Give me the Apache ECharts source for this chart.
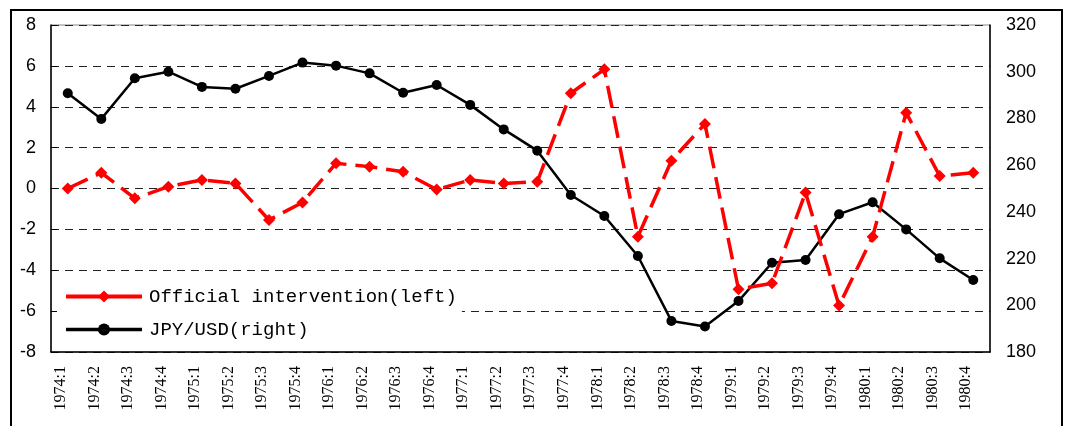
<!DOCTYPE html>
<html>
<head>
<meta charset="utf-8">
<script src="https://cdn.jsdelivr.net/npm/echarts@6/dist/echarts.min.js"></script>
<style>
  html, body { margin: 0; padding: 0; background: #fff; }
  #main { width: 1068px; height: 426px; }
</style>
</head>
<body>
<div id="main"></div>
<script>
const quarters = ['1974:1','1974:2','1974:3','1974:4','1975:1','1975:2','1975:3','1975:4',
  '1976:1','1976:2','1976:3','1976:4','1977:1','1977:2','1977:3','1977:4',
  '1978:1','1978:2','1978:3','1978:4','1979:1','1979:2','1979:3','1979:4',
  '1980:1','1980:2','1980:3','1980:4'];

// official intervention, left axis
const intervention = [0, 0.77, -0.48, 0.09, 0.42, 0.25, -1.54, -0.68,
  1.23, 1.07, 0.82, -0.05, 0.42, 0.25, 0.33, 4.66,
  5.83, -2.36, 1.36, 3.16, -4.93, -4.64, -0.2, -5.73,
  -2.36, 3.71, 0.61, 0.77];

// JPY/USD, right axis
const jpyUsd = [290.8, 279.8, 297.2, 300, 293.5, 292.7, 298.2, 303.9,
  302.6, 299.3, 291, 294.3, 285.8, 275.3, 266.2, 247.2,
  238.2, 221.1, 193.3, 190.9, 201.8, 218.2, 219.4, 239,
  244.1, 232.5, 220.1, 210.8];

const leftName = 'Official intervention(left)';
const rightName = 'JPY/USD(right)';

const myChart = echarts.init(document.getElementById('main'));

const option = {
  backgroundColor: '#fff',
  animation: false,
  graphic: [{
    type: 'rect',
    shape: { x: 11, y: 10, width: 1051, height: 440 },
    style: { fill: 'none', stroke: '#000', lineWidth: 2 }
  }],
  grid: {
    left: 51, right: 78, top: 25, bottom: 74,
    containLabel: false,
    show: true, borderColor: '#888', borderWidth: 1
  },
  legend: {
    orient: 'vertical',
    left: 57, top: 279,
    padding: [7, 5, 7, 7],
    backgroundColor: '#fff',
    itemWidth: 76, itemHeight: 15, itemGap: 12,
    textStyle: { fontFamily: 'Liberation Mono', fontSize: 19, color: '#000', lineHeight: 21, padding: [0, 0, 0, 2] },
    data: [
      { name: leftName, lineStyle: { type: 'solid', width: 4 } },
      { name: rightName, lineStyle: { width: 3.5 } }
    ]
  },
  xAxis: {
    type: 'category',
    data: quarters,
    boundaryGap: true,
    axisLine: { onZero: false, lineStyle: { color: '#000', width: 1.5 } },
    axisTick: { inside: true, length: 5, lineStyle: { color: '#000' } },
    axisLabel: {
      interval: 0, rotate: 90, margin: 14,
      fontFamily: 'Liberation Serif', fontSize: 16, color: '#000',
      verticalAlign: 'bottom', lineHeight: 14
    }
  },
  yAxis: [{
    type: 'value',
    min: -8, max: 8, interval: 2,
    axisLine: { show: true, lineStyle: { color: '#000', width: 1.5 } },
    axisTick: { show: true, inside: true, length: 6, lineStyle: { color: '#000' } },
    axisLabel: { fontFamily: 'Liberation Sans', fontSize: 18, color: '#000', margin: 15 },
    splitLine: { show: true, lineStyle: { color: '#222', width: 1, type: [8, 6] } }
  }, {
    type: 'value',
    min: 180, max: 320, interval: 20,
    position: 'right',
    axisLine: { show: true, lineStyle: { color: '#000', width: 1.5 } },
    axisTick: { show: false },
    axisLabel: { fontFamily: 'Liberation Sans', fontSize: 18, color: '#000', margin: 16 },
    splitLine: { show: false }
  }],
  series: [{
    name: leftName,
    type: 'line',
    yAxisIndex: 0,
    data: intervention,
    color: '#ff0000',
    symbol: 'diamond',
    symbolSize: 12,
    lineStyle: { width: 3.5, type: [22, 9], color: '#ff0000' },
    itemStyle: { color: '#ff0000' },
    z: 3
  }, {
    name: rightName,
    type: 'line',
    yAxisIndex: 1,
    data: jpyUsd,
    color: '#000',
    symbol: 'circle',
    symbolSize: 10,
    lineStyle: { width: 2.5, color: '#000' },
    itemStyle: { color: '#000' },
    z: 2
  }]
};

myChart.setOption(option);
</script>
</body>
</html>
